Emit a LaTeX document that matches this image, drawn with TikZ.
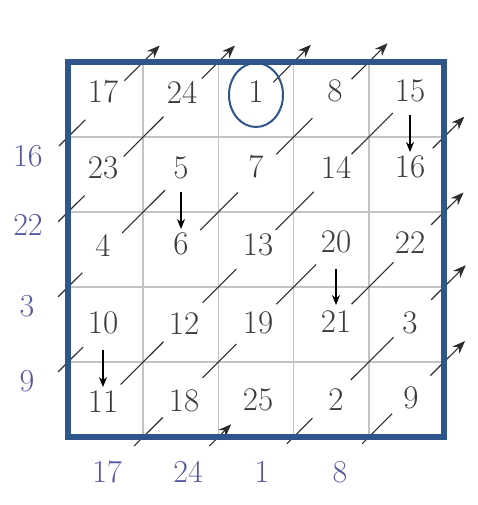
\documentclass[tikz,border=0pt]{standalone}
\usetikzlibrary{calc,arrows.meta,shapes.geometric}
\definecolor{frameblue}{RGB}{46,86,138}
\definecolor{labelblue}{RGB}{88,88,160}
\definecolor{numgray}{RGB}{60,60,60}
\definecolor{gridgray}{RGB}{195,195,195}
\definecolor{linegray}{RGB}{45,45,45}
\tikzset{
  num/.style={text=numgray, font=\fontsize{33}{33}\selectfont, inner sep=0pt},
  outlabel/.style={text=labelblue, font=\fontsize{32}{32}\selectfont, inner sep=0pt},
  diagline/.style={draw=linegray, line width=1.1pt},
  diagarrow/.style={diagline, -{Stealth[length=13pt,width=10pt]}},
  downarrow/.style={draw=black, line width=1.4pt, -{Stealth[length=10pt,width=8pt]}},
  gridline/.style={draw=gridgray, line width=1.5pt},
  boardframe/.style={draw=frameblue, line width=5.5pt, line join=miter},
  ring/.style={draw=frameblue, line width=2pt, ellipse, minimum width=54pt, minimum height=64pt, inner sep=0pt},
}
\newcommand\dseg[5][]{\draw[diagline,#1] ($(#2)!#3!(#5)$) -- ($(#2)!#4!(#5)$);}
\begin{document}
\begin{tikzpicture}[x=1pt,y=-1pt]
\useasboundingbox (0,0) rectangle (477,505);
\fill[white] (0,0) rectangle (477,505);
% cell centre coordinates (including a ring of virtual cells outside the board)
\foreach \r in {0,...,6}{\foreach \c in {0,...,6}{
  \coordinate (c-\r-\c) at ({68+75.2*(\c-0.5)},{62+75*(\r-0.5)});}}
% grid
\foreach \i in {1,...,4}{
  \draw[gridline] ({68+75.2*\i},62) -- ({68+75.2*\i},437);
  \draw[gridline] (68,{62+75*\i}) -- (444,{62+75*\i});}
% diagonal steps inside the board
\dseg{c-2-1}{0.24}{0.77}{c-1-2}
\dseg{c-3-1}{0.22}{0.79}{c-2-2}
\dseg{c-3-2}{0.26}{0.76}{c-2-3}
\dseg{c-2-3}{0.27}{0.75}{c-1-4}
\dseg{c-3-3}{0.26}{0.77}{c-2-4}
\dseg{c-2-4}{0.27}{0.82}{c-1-5}
\dseg{c-5-1}{0.20}{0.77}{c-4-2}
\dseg{c-4-2}{0.29}{0.74}{c-3-3}
\dseg{c-5-2}{0.29}{0.74}{c-4-3}
\dseg{c-4-3}{0.27}{0.80}{c-3-4}
\dseg{c-4-4}{0.27}{0.83}{c-3-5}
\dseg{c-5-4}{0.26}{0.83}{c-4-5}
% leaving through the top
\dseg[diagarrow]{c-1-1}{0.25}{0.72}{c-0-2}
\dseg[diagarrow]{c-1-2}{0.28}{0.72}{c-0-3}
\dseg[diagarrow]{c-1-3}{0.23}{0.73}{c-0-4}
\dseg[diagarrow]{c-1-4}{0.27}{0.75}{c-0-5}
% leaving through the right side
\dseg[diagarrow]{c-2-5}{0.35}{0.77}{c-1-6}
\dseg[diagarrow]{c-3-5}{0.33}{0.76}{c-2-6}
\dseg[diagarrow]{c-4-5}{0.33}{0.79}{c-3-6}
\dseg[diagarrow]{c-5-5}{0.32}{0.78}{c-4-6}
% entering from the left side
\dseg{c-2-0}{0.38}{0.73}{c-1-1}
\dseg{c-3-0}{0.37}{0.72}{c-2-1}
\dseg{c-4-0}{0.37}{0.69}{c-3-1}
\dseg{c-5-0}{0.37}{0.70}{c-4-1}
% entering from the bottom
\dseg{c-6-1}{0.38}{0.76}{c-5-2}
\dseg{c-6-3}{0.41}{0.75}{c-5-4}
\dseg{c-6-4}{0.41}{0.81}{c-5-5}
\dseg[diagarrow]{c-6-2}{0.38}{0.67}{c-5-3}
% frame
\draw[boardframe] (68,62) rectangle (444,437);
% numbers
\node[num] (n17) at (103,92) {17};
\node[num] (n24) at (182,92) {24};
\node[num] (n1)  at (256,92) {1};
\node[num] (n8)  at (335,91) {8};
\node[num] (n15) at (410,91) {15};
\node[num] (n23) at (103,168) {23};
\node[num] (n5)  at (181,168) {5};
\node[num] (n7)  at (256,167) {7};
\node[num] (n14) at (336,167) {14};
\node[num] (n16) at (410,167) {16};
\node[num] (n4)  at (103,245) {4};
\node[num] (n6)  at (181,244) {6};
\node[num] (n13) at (258,245) {13};
\node[num] (n20) at (336,242) {20};
\node[num] (n22) at (410,243) {22};
\node[num] (n10) at (103,323) {10};
\node[num] (n12) at (184,324) {12};
\node[num] (n19) at (258,323) {19};
\node[num] (n21) at (336,322) {21};
\node[num] (n3)  at (410,323) {3};
\node[num] (n11) at (103,402) {11};
\node[num] (n18) at (184,401) {18};
\node[num] (n25) at (258,400) {25};
\node[num] (n2)  at (336,400) {2};
\node[num] (n9)  at (411,398) {9};
\node[ring] (ring1) at (256,95) {};
% blocked moves: step down
\draw[downarrow] ($(n15)+(0,24)$) -- ($(n16)+(0,-15)$);
\draw[downarrow] ($(n5)+(0,24)$) -- ($(n6)+(0,-15)$);
\draw[downarrow] ($(n20)+(0,27)$) -- ($(n21)+(0,-17)$);
\draw[downarrow] ($(n10)+(0,27)$) -- ($(n11)+(0,-15)$);
% outer labels
\node[outlabel] (l16) at (28,156) {16};
\node[outlabel] (l22) at (28,225) {22};
\node[outlabel] (l3)  at (27,306) {3};
\node[outlabel] (l9)  at (27,381) {9};
\node[outlabel] (b17) at (107,472) {17};
\node[outlabel] (b24) at (188,472) {24};
\node[outlabel] (b1)  at (262,472) {1};
\node[outlabel] (b8)  at (340,472) {8};
\end{tikzpicture}
\end{document}
